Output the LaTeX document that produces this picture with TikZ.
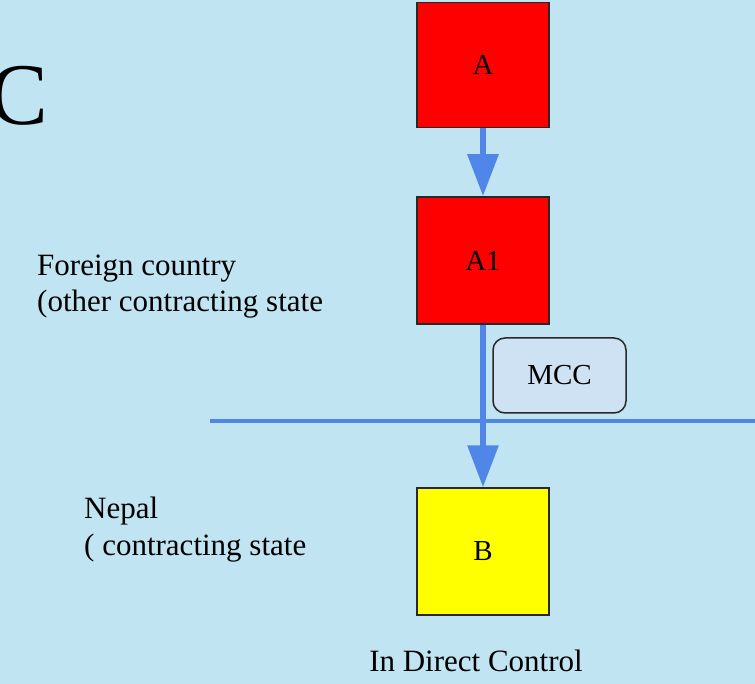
\documentclass[tikz,border=0pt]{standalone}
\usepackage{fontspec}
\setmainfont{Liberation Serif}
\usetikzlibrary{arrows.meta}
\definecolor{bgblue}{RGB}{193,228,243}
\definecolor{flowblue}{RGB}{79,134,232}
\definecolor{mccfill}{RGB}{207,226,243}
\definecolor{edge}{RGB}{40,40,40}
\definecolor{boxred}{RGB}{255,0,0}
\definecolor{boxyellow}{RGB}{255,255,0}
\tikzset{
  entity/.style={draw=edge, line width=1.5pt, minimum width=132pt, minimum height=125pt,
    inner sep=0pt, font=\fontsize{29}{33}\selectfont},
  flow/.style={draw=flowblue, line width=6pt,
    -{Triangle[length=42pt,width=30pt]}},
  % the base anchor of a two-line label sits on its last line
  label/.style={align=left, anchor=base west, inner sep=0pt,
    font=\fontsize{31}{36.5}\selectfont},
}
\begin{document}
\begin{tikzpicture}[x=1pt,y=-1pt]
  \fill[bgblue] (0,0) rectangle (755,684);
  \useasboundingbox (0,0) rectangle (755,684);

  % big heading letter, partly cut at the left edge
  \node[anchor=base west, inner sep=0pt, font=\fontsize{88}{88}\selectfont] (head) at (-11,125) {C};

  % border between the two states
  \coordinate (bl) at (210,421);
  \coordinate (br) at (755,421);
  \draw[flowblue, line width=4pt] (bl) -- (br);

  % companies
  \node[entity, fill=boxred] (a)  at (483,65)  {A};
  \node[entity, fill=boxred, minimum height=127pt] (a1) at (483,260.5) {A1};
  \node[entity, fill=boxyellow, minimum height=127pt] (b) at (483,551.5) {B};

  \node[draw=edge, line width=1.5pt, fill=mccfill, rounded corners=12pt,
        minimum width=133pt, minimum height=75pt, inner sep=0pt,
        font=\fontsize{29}{33}\selectfont] (mcc) at (559.5,375.5) {MCC};

  % control flows
  \draw[flow] (a.south) -- (a1.north);
  \draw[flow] (a1.south) -- (b.north);

  % state labels
  \node[label] (foreign) at (37,312) {Foreign country\\(other contracting state};
  \node[label] (nepal) at (84,555) {Nepal\\( contracting state};
  \node[anchor=base, inner sep=0pt, font=\fontsize{31}{36}\selectfont] (ctrl) at (476,671) {In Direct Control};
\end{tikzpicture}
\end{document}
